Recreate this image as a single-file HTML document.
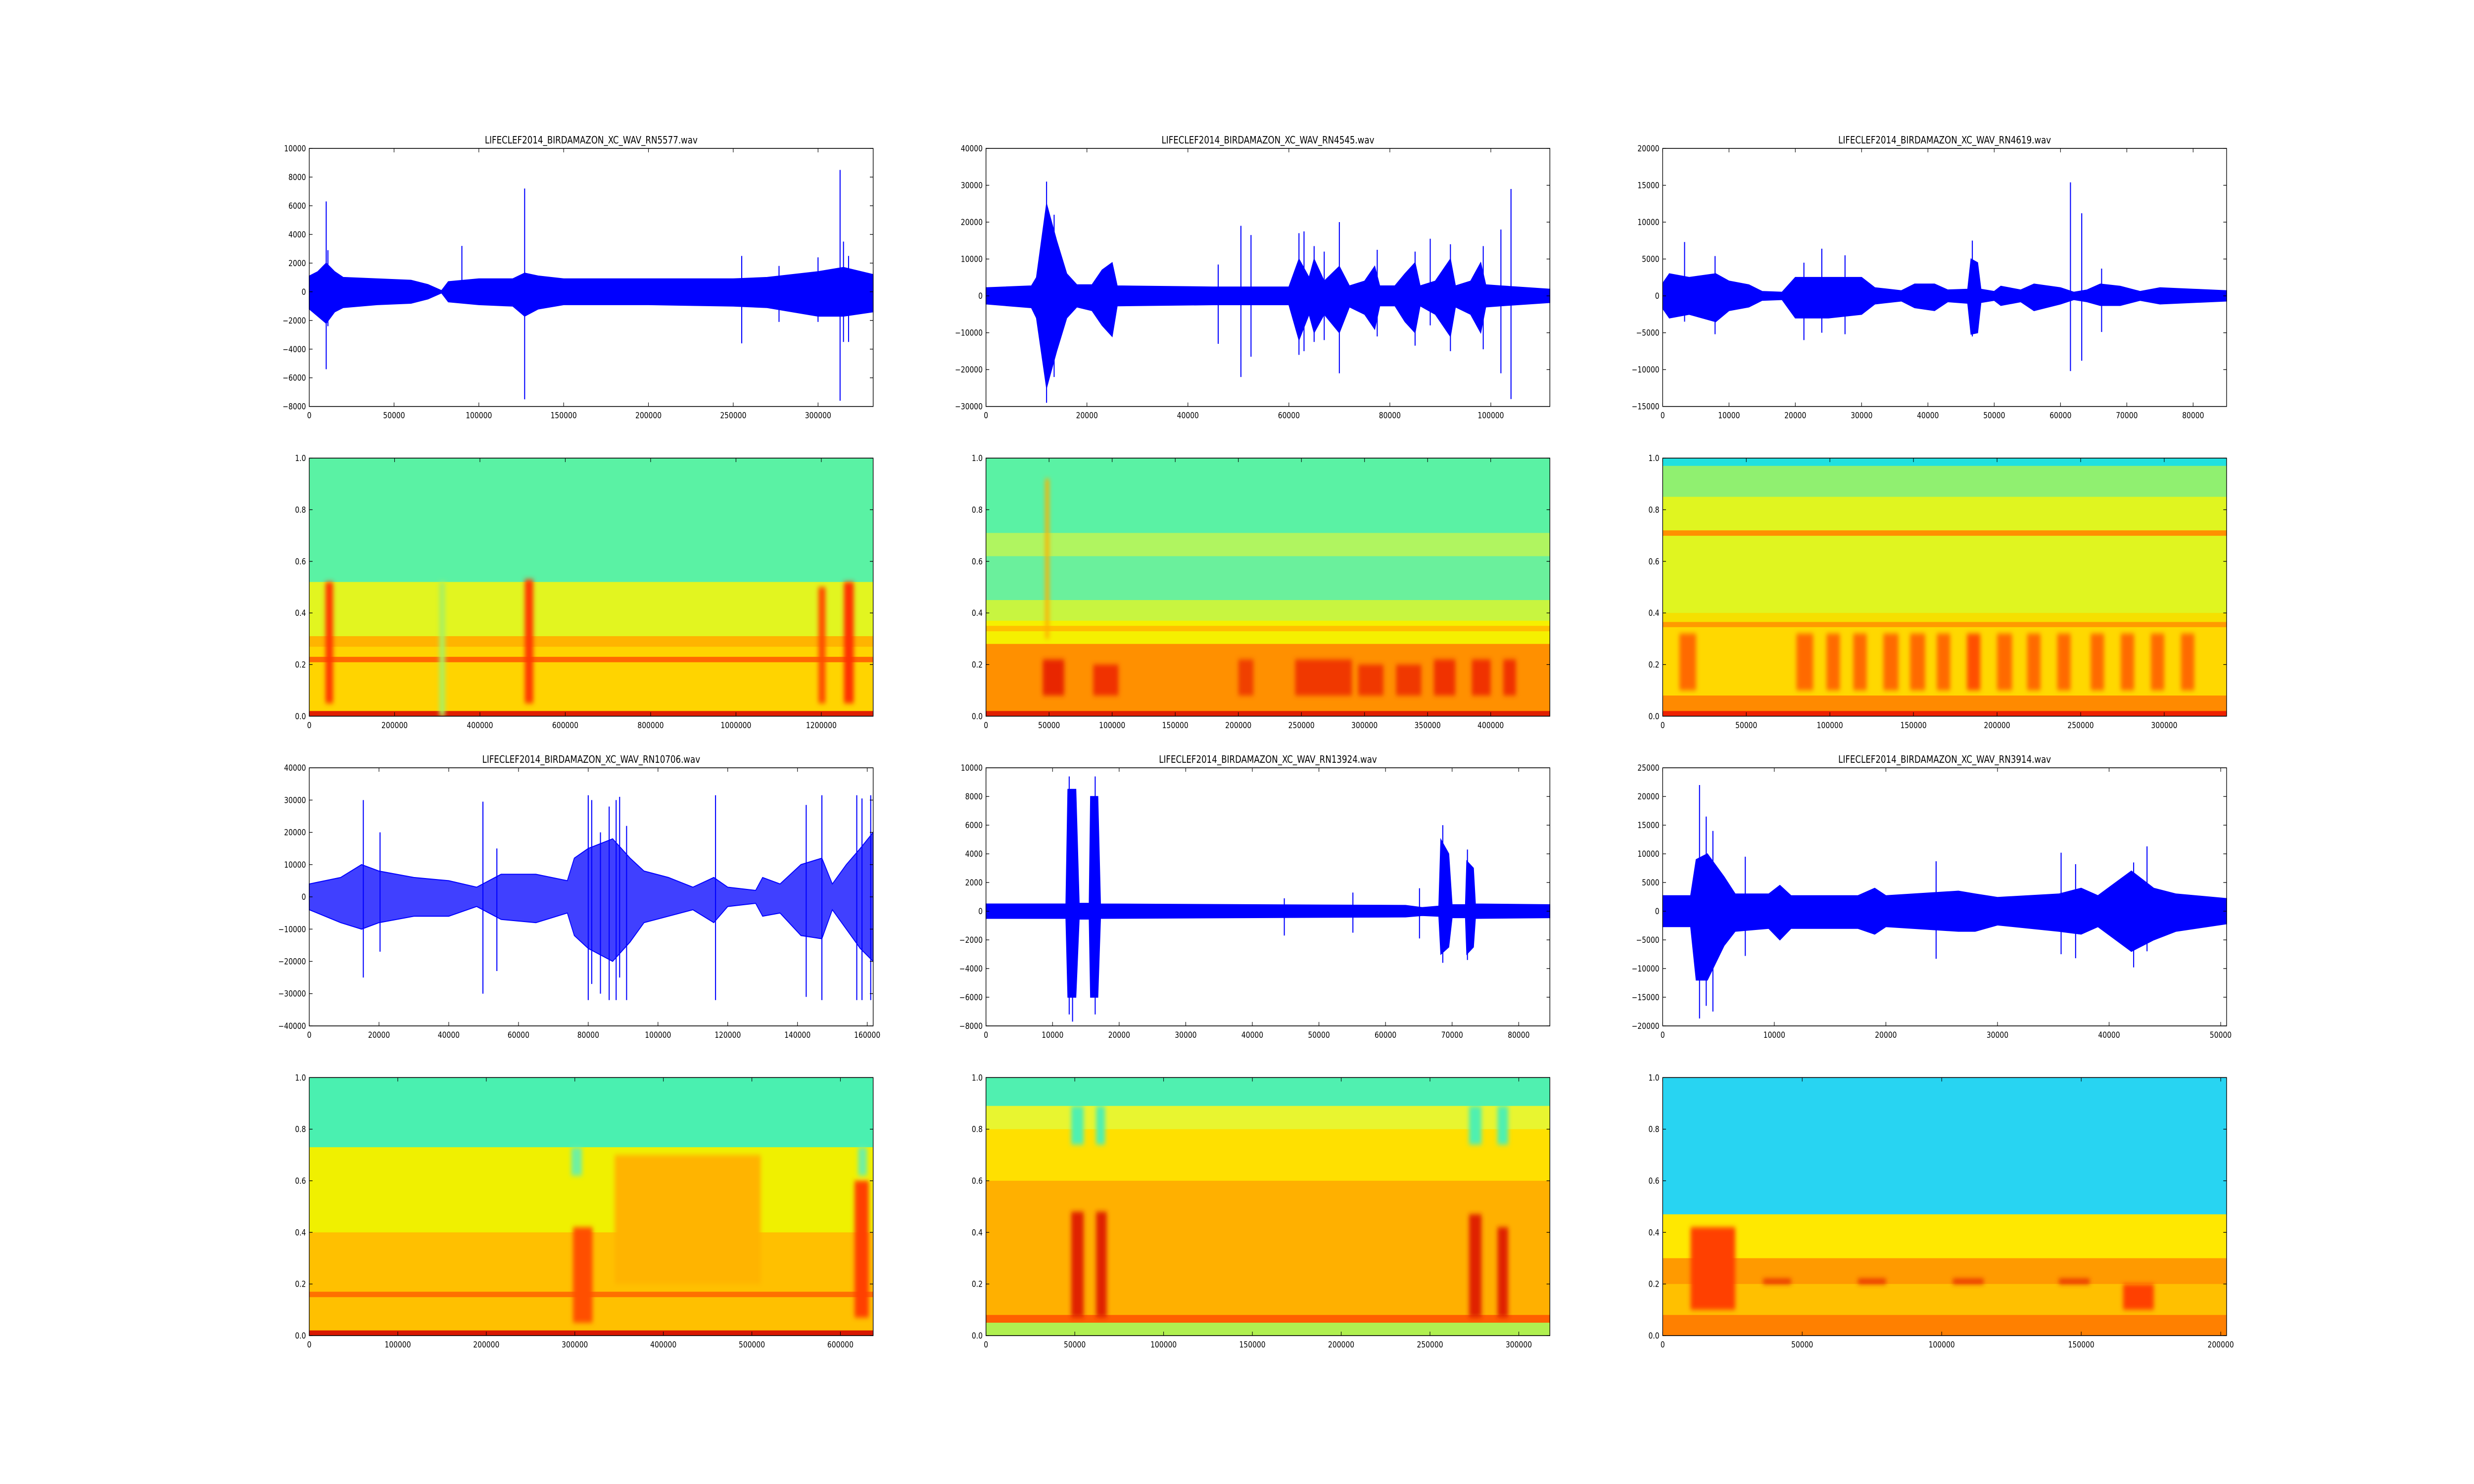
<!DOCTYPE html>
<html><head><meta charset="utf-8"><style>
html,body{margin:0;padding:0;background:#fff;overflow:hidden;}
#fig{display:block;width:100vw;height:100vh;}
svg text{font-family:"DejaVu Sans","Liberation Sans",sans-serif;}
</style></head>
<body>
<svg id="fig" xmlns="http://www.w3.org/2000/svg" viewBox="0 0 6000 3000" preserveAspectRatio="none">
<rect x="0" y="0" width="6000" height="3000" fill="#ffffff"/>
<defs><filter id="blur" x="-20%" y="-20%" width="140%" height="140%"><feGaussianBlur stdDeviation="5"/></filter></defs>
</svg>
<script>
// ---------- waveform data: [sample, hi, lo] ----------
const wave1Core = [[0,1100,-1200],[5000,1400,-1700],[10000,2000,-2200],[15000,1400,-1400],[20000,1000,-1100],[40000,900,-900],[60000,800,-800],[70000,500,-500],[78000,80,-80],[82000,700,-700],[100000,900,-900],[120000,900,-1000],[127000,1300,-1700],[135000,1100,-1200],[150000,900,-900],[200000,900,-900],[250000,900,-1000],[270000,1000,-1100],[300000,1400,-1700],[315000,1700,-1700],[332500,1200,-1400]];
const wave1Spikes = [[10000,6300,-5400],[11000,2900,-2400],[90000,3200,-800],[127000,7200,-7500],[255000,2500,-3600],[277000,1800,-2100],[300000,2400,-2100],[313000,8500,-7600],[315000,3500,-3500],[318000,2500,-3500]];
const wave1XTicks = [0,50000,100000,150000,200000,250000,300000];
const wave1YTicks = [-8000,-6000,-4000,-2000,0,2000,4000,6000,8000,10000];

const wave2Core = [[0,2200,-2200],[9000,2700,-3200],[10000,5000,-6000],[12000,25000,-25000],[14000,15000,-15000],[16000,6000,-6000],[18000,3000,-3000],[21000,3000,-4000],[23000,7000,-8000],[25000,9000,-11000],[26000,2700,-2700],[45000,2400,-2400],[60000,2400,-2400],[62000,10000,-12000],[64000,5000,-5000],[65000,10000,-10000],[67000,4000,-5000],[70000,8000,-10000],[72000,2700,-3000],[75000,4000,-5000],[77000,8000,-9000],[78000,2700,-2700],[81000,2700,-2700],[83000,6000,-7000],[85000,9000,-10000],[86000,2700,-2700],[89000,4000,-5000],[92000,10000,-11000],[93000,2700,-3000],[96000,4000,-5000],[98000,9000,-10000],[99000,3000,-3000],[102000,2700,-2700],[111700,1800,-1800]];
const wave2Spikes = [[12000,31000,-29000],[13500,22000,-22000],[46000,8500,-13000],[50500,19000,-22000],[52500,16500,-16500],[62000,17000,-16000],[63000,17500,-15000],[65000,13500,-12500],[67000,12000,-12000],[70000,20000,-21000],[77500,12500,-11000],[85000,12000,-13500],[88000,15500,-8000],[92000,14000,-15000],[98500,13500,-14500],[102000,18000,-21000],[104000,29000,-28000]];
const wave2XTicks = [0,20000,40000,60000,80000,100000];
const wave2YTicks = [-30000,-20000,-10000,0,10000,20000,30000,40000];

const wave3Core = [[0,1700,-1700],[1000,3000,-3000],[4000,2500,-2500],[8000,3000,-3500],[10000,2000,-2000],[13000,1500,-1500],[15000,600,-600],[18000,500,-500],[20000,2500,-3000],[25000,2500,-3000],[30000,2500,-2500],[32000,1100,-1100],[36000,700,-700],[38000,1600,-1600],[41000,1600,-2000],[43000,800,-800],[46000,900,-1000],[46500,5000,-5200],[47500,4500,-5000],[48000,900,-900],[50000,600,-600],[51000,1300,-1300],[54000,800,-800],[56000,1600,-2000],[60000,1100,-1100],[62000,500,-500],[64000,800,-800],[66000,1600,-1300],[69000,1300,-1300],[72000,600,-600],[75000,1100,-1100],[80000,900,-900],[85050,700,-700]];
const wave3Spikes = [[3300,7300,-3500],[7900,5400,-5200],[21300,4500,-6000],[24000,6400,-5000],[27500,5500,-5200],[46700,7500,-5500],[61500,15400,-10200],[63200,11200,-8800],[66200,3700,-4900]];
const wave3XTicks = [0,10000,20000,30000,40000,50000,60000,70000,80000];
const wave3YTicks = [-15000,-10000,-5000,0,5000,10000,15000,20000];

const wave4Core = [[0,4000,-4000],[9000,6000,-8000],[15000,10000,-10000],[20000,8000,-8000],[30000,6000,-6000],[40000,5000,-6000],[48000,3000,-3000],[55000,7000,-7000],[65000,7000,-8000],[74000,5000,-5000],[76000,12000,-12000],[80000,15000,-16000],[87000,18000,-20000],[92000,12000,-14000],[96000,8000,-8000],[103000,6000,-6000],[110000,3000,-4000],[116000,6000,-8000],[120000,3000,-3000],[128000,2000,-2000],[130000,6000,-6000],[135000,4000,-5000],[141000,10000,-12000],[147000,12000,-13000],[150000,4000,-4000],[154000,10000,-10000],[158000,15000,-16000],[161700,20000,-20000]];
const wave4Spikes = [[15500,30000,-25000],[20300,20000,-17000],[49800,29500,-30000],[53800,15000,-23000],[80000,31500,-32000],[81000,30000,-27000],[83500,20000,-30000],[86000,28000,-32000],[88000,30000,-32000],[89000,31000,-25000],[91000,22000,-32000],[116500,31500,-32000],[142500,28500,-31000],[147000,31500,-32000],[157000,31500,-32000],[158500,30500,-32000],[161000,31500,-32000]];
const wave4XTicks = [0,20000,40000,60000,80000,100000,120000,140000,160000];
const wave4YTicks = [-40000,-30000,-20000,-10000,0,10000,20000,30000,40000];

const wave5Core = [[0,500,-500],[12000,500,-500],[12300,8500,-6000],[13500,8500,-6000],[14000,550,-550],[15500,550,-550],[15700,8000,-6000],[16800,8000,-6000],[17200,500,-500],[63000,400,-400],[65500,250,-300],[68000,350,-350],[68300,5000,-3000],[69500,4000,-2500],[70000,450,-450],[72000,450,-450],[72200,3500,-3000],[73200,3000,-2500],[73500,500,-500],[84680,450,-450]];
const wave5Spikes = [[12500,9400,-7200],[13000,8500,-7700],[16400,9400,-7200],[44800,900,-1700],[55100,1300,-1500],[65100,1600,-1900],[68600,6000,-3600],[72300,4300,-3400]];
const wave5XTicks = [0,10000,20000,30000,40000,50000,60000,70000,80000];
const wave5YTicks = [-8000,-6000,-4000,-2000,0,2000,4000,6000,8000,10000];

const wave6Core = [[0,2700,-2700],[2500,2700,-2700],[3000,9000,-12000],[4000,10000,-12000],[5500,6000,-6000],[6500,3000,-3500],[9500,3000,-3000],[10500,4500,-5000],[11500,2700,-3000],[17500,2700,-3000],[19000,4000,-4000],[20000,2700,-2700],[26500,3500,-3500],[28000,3000,-3500],[30000,2400,-2400],[35500,3000,-3500],[37500,4000,-4000],[39000,2700,-2700],[42000,7000,-7000],[44000,4000,-5000],[46000,3000,-3500],[50530,2200,-2200]];
const wave6Spikes = [[3300,22000,-18700],[3900,16500,-16500],[4500,14000,-17500],[7400,9500,-7800],[24500,8700,-8300],[35700,10200,-7500],[37000,8200,-8200],[42200,8500,-9800],[43400,11300,-7000]];
const wave6XTicks = [0,10000,20000,30000,40000,50000];
const wave6YTicks = [-20000,-15000,-10000,-5000,0,5000,10000,15000,20000,25000];

const waveTitles = ["LIFECLEF2014_BIRDAMAZON_XC_WAV_RN5577.wav","LIFECLEF2014_BIRDAMAZON_XC_WAV_RN4545.wav","LIFECLEF2014_BIRDAMAZON_XC_WAV_RN4619.wav","LIFECLEF2014_BIRDAMAZON_XC_WAV_RN10706.wav","LIFECLEF2014_BIRDAMAZON_XC_WAV_RN13924.wav","LIFECLEF2014_BIRDAMAZON_XC_WAV_RN3914.wav"];
const waveXMax = [332500,111700,85050,161700,84680,50530];
const waveYMin = [-8000,-30000,-15000,-40000,-8000,-20000];
const waveYMax = [10000,40000,20000,40000,10000,25000];

// ---------- spectrogram data ----------
const spec1Bands = [[0.52,1.0,"#5af2a4"],[0.30,0.52,"#e2f520"],[0.02,0.30,"#ffd400"],[0.27,0.31,"#ffb400"],[0.21,0.23,"#ff6a00"],[0,0.02,"#e02000"]];
const spec1Bursts = [[305000,318000,0.0,0.52,"#a8f060"],[38000,56000,0.05,0.52,"#ff3a00"],[505000,525000,0.05,0.53,"#ff3a00"],[1193000,1210000,0.05,0.5,"#ff5000"],[1253000,1276000,0.05,0.52,"#ff3000"]];
const spec1XTicks = [0,200000,400000,600000,800000,1000000,1200000];
const spec2Bands = [[0.70,1.0,"#5af2a4"],[0.62,0.71,"#b0f560"],[0.45,0.62,"#6af09c"],[0.37,0.45,"#c8f540"],[0.28,0.37,"#f5f000"],[0.33,0.35,"#ffc000"],[0.02,0.28,"#ff9000"],[0,0.02,"#e02000"]];
const spec2Bursts = [[45000,62000,0.08,0.22,"#e82800"],[85000,105000,0.08,0.2,"#f03000"],[200000,212000,0.08,0.22,"#f04000"],[245000,290000,0.08,0.22,"#f03800"],[295000,315000,0.08,0.2,"#f03800"],[325000,345000,0.08,0.2,"#f03800"],[355000,372000,0.08,0.22,"#f03000"],[385000,400000,0.08,0.22,"#f03000"],[410000,420000,0.08,0.22,"#f03000"],[47000,50000,0.3,0.92,"#ffb000"]];
const spec2XTicks = [0,50000,100000,150000,200000,250000,300000,350000,400000];
const spec3Bands = [[0.97,1.0,"#20e0e0"],[0.85,0.97,"#90f070"],[0.40,0.85,"#e0f520"],[0.70,0.72,"#ff9000"],[0.36,0.40,"#f5e000"],[0.345,0.365,"#ff9a00"],[0.08,0.345,"#ffd800"],[0.02,0.08,"#ff8a00"],[0,0.02,"#ee2200"]];
const spec3Bursts = [[10000,20000,0.1,0.32,"#ff6a00"],[80000,90000,0.1,0.32,"#ff6a00"],[98000,106000,0.1,0.32,"#ff6a00"],[114000,122000,0.1,0.32,"#ff6a00"],[132000,141000,0.1,0.32,"#ff6a00"],[148000,157000,0.1,0.32,"#ff6a00"],[164000,172000,0.1,0.32,"#ff6a00"],[182000,190000,0.1,0.32,"#ff5000"],[200000,209000,0.1,0.32,"#ff6a00"],[218000,226000,0.1,0.32,"#ff6a00"],[236000,244000,0.1,0.32,"#ff6a00"],[256000,264000,0.1,0.32,"#ff6a00"],[274000,282000,0.1,0.32,"#ff6a00"],[292000,300000,0.1,0.32,"#ff6a00"],[310000,318000,0.1,0.32,"#ff6a00"]];
const spec3XTicks = [0,50000,100000,150000,200000,250000,300000];
const spec4Bands = [[0.73,1.0,"#4af0b0"],[0.40,0.73,"#f0f000"],[0.02,0.40,"#ffc000"],[0.15,0.17,"#ff7000"],[0,0.02,"#d81800"]];
const spec4Bursts = [[345000,510000,0.2,0.7,"#ffb400"],[298000,320000,0.05,0.42,"#ff5000"],[616000,632000,0.07,0.6,"#ff4000"],[296000,308000,0.62,0.73,"#70f0a0"],[620000,630000,0.62,0.73,"#70f0a0"]];
const spec4XTicks = [0,100000,200000,300000,400000,500000,600000];
const spec5Bands = [[0.89,1.0,"#50f0b0"],[0.80,0.89,"#e8f530"],[0.60,0.80,"#ffe000"],[0.07,0.60,"#ffb000"],[0.05,0.08,"#ff6000"],[0,0.05,"#b0f050"]];
const spec5Bursts = [[48000,55000,0.07,0.48,"#e02000"],[62000,68000,0.07,0.48,"#e02000"],[272000,279000,0.07,0.47,"#e02000"],[288000,294000,0.07,0.42,"#e02000"],[48000,55000,0.74,0.89,"#50f0b0"],[62000,67000,0.74,0.89,"#50f0b0"],[272000,279000,0.74,0.89,"#50f0b0"],[288000,294000,0.74,0.89,"#50f0b0"]];
const spec5XTicks = [0,50000,100000,150000,200000,250000,300000];
const spec6Bands = [[0.47,1.0,"#28d4f2"],[0.30,0.47,"#ffe800"],[0.20,0.30,"#ff9a00"],[0.08,0.20,"#ffc000"],[0,0.08,"#ff8000"]];
const spec6Bursts = [[10000,26000,0.1,0.42,"#ff4000"],[165000,176000,0.1,0.2,"#ff4000"],[36000,46000,0.2,0.22,"#e83000"],[70000,80000,0.2,0.22,"#e83000"],[104000,115000,0.2,0.22,"#e83000"],[142000,153000,0.2,0.22,"#e83000"]];
const spec6XTicks = [0,50000,100000,150000,200000];
const specYTicks = [0.0,0.2,0.4,0.6,0.8,1.0];
const specXMax = [1321500,446900,337300,637000,317500,202100];

const waves = [[wave1Core,wave1Spikes,wave1XTicks,wave1YTicks],[wave2Core,wave2Spikes,wave2XTicks,wave2YTicks],[wave3Core,wave3Spikes,wave3XTicks,wave3YTicks],[wave4Core,wave4Spikes,wave4XTicks,wave4YTicks],[wave5Core,wave5Spikes,wave5XTicks,wave5YTicks],[wave6Core,wave6Spikes,wave6XTicks,wave6YTicks]];
const specs = [[spec1Bands,spec1Bursts,spec1XTicks],[spec2Bands,spec2Bursts,spec2XTicks],[spec3Bands,spec3Bursts,spec3XTicks],[spec4Bands,spec4Bursts,spec4XTicks],[spec5Bands,spec5Bursts,spec5XTicks],[spec6Bands,spec6Bursts,spec6XTicks]];

const NS = "http://www.w3.org/2000/svg";
const svg = document.getElementById('fig');
const colL = [750, 2391.2, 4032.4], AW = 1367.6;
const rowT = [300, 926.1, 1552.2, 2178.3], AH = 521.7;

function mk(tag, attrs, parent){
  const e = document.createElementNS(NS, tag);
  for (const k in attrs) e.setAttribute(k, attrs[k]);
  (parent||svg).appendChild(e);
  return e;
}
function fmt(v, dec){
  let s = dec ? v.toFixed(1) : String(v);
  return s.replace('-', '\u2212');
}
function axesFrame(g, x0, y0, xs, ys, xt, yt, dec){
  const fr = mk('rect',{x:x0,y:y0,width:AW,height:AH,fill:'none',stroke:'#000','stroke-width':1.6},g);
  
  
  xt.forEach(v=>{
    const px = xs(v);
    const t1 = mk('line',{x1:px,x2:px,y1:y0+AH,y2:y0+AH-8,stroke:'#000','stroke-width':1.3},g);
    
    
    const t2 = mk('line',{x1:px,x2:px,y1:y0,y2:y0+8,stroke:'#000','stroke-width':1.3},g);
    
    
    const tl = mk('text',{x:px,y:y0+AH+24,'font-size':16.7,'text-anchor':'middle',fill:'#000'},g);
    tl.textContent = fmt(v,false);
    
    
  });
  yt.forEach(v=>{
    const py = ys(v);
    const t1 = mk('line',{x1:x0,x2:x0+8,y1:py,y2:py,stroke:'#000','stroke-width':1.3},g);
    
    
    const t2 = mk('line',{x1:x0+AW,x2:x0+AW-8,y1:py,y2:py,stroke:'#000','stroke-width':1.3},g);
    
    
    const tl = mk('text',{x:x0-8,y:py+6,'font-size':16.7,'text-anchor':'end',fill:'#000'},g);
    tl.textContent = fmt(v,dec);
    
    
  });
}

for (let i=0;i<6;i++){
  const col = i%3, row = i<3 ? 0 : 2;
  const x0 = colL[col], y0 = rowT[row];
  const [core, spikes, xt, yt] = waves[i];
  const xmax = waveXMax[i], ymin = waveYMin[i], ymax = waveYMax[i];
  const xs = v => x0 + v/xmax*AW;
  const ys = v => y0 + (ymax - v)/(ymax-ymin)*AH;
  const g = mk('g',{});
  
  
  let pts = core.map(d=>xs(d[0]).toFixed(1)+','+ys(d[1]).toFixed(1));
  pts = pts.concat(core.slice().reverse().map(d=>xs(d[0]).toFixed(1)+','+ys(d[2]).toFixed(1)));
  const poly = mk('polygon',{points:pts.join(' '),fill:'#0000ff','fill-opacity': i===3?0.75:1,stroke:'#0000ff','stroke-width':2},g);
  
  
  spikes.forEach(d=>{
    const ln = mk('line',{x1:xs(d[0]),x2:xs(d[0]),y1:ys(d[1]),y2:ys(d[2]),stroke:'#0000ff','stroke-width':2.5},g);
    
    
  });
  axesFrame(g, x0, y0, xs, ys, xt, yt, false);
  const tt = mk('text',{x:x0+AW/2,y:y0-10,'font-size':20,'text-anchor':'middle',fill:'#000'},g);
  tt.textContent = waveTitles[i];
  
  

  const sy0 = rowT[row+1];
  const [bands, bursts, sxt] = specs[i];
  const sxmax = specXMax[i];
  const sxs = v => x0 + v/sxmax*AW;
  const sys = v => sy0 + (1 - v)*AH;
  const sg = mk('g',{});
  
  
  const cid = 'clip'+i;
  const cp = mk('clipPath',{id:cid},sg);
  mk('rect',{x:x0,y:sy0,width:AW,height:AH},cp);
  const inner = mk('g',{'clip-path':'url(#'+cid+')'},sg);
  bands.forEach(b=>{
    const r = mk('rect',{x:x0,y:sys(b[1]),width:AW,height:sys(b[0])-sys(b[1])+0.5,fill:b[2]},inner);
    
    
  });
  const bg = mk('g',{filter:'url(#blur)'},inner);
  bursts.forEach(b=>{
    const r = mk('rect',{x:sxs(b[0]),y:sys(b[3]),width:sxs(b[1])-sxs(b[0]),height:sys(b[2])-sys(b[3]),fill:b[4]},bg);
    
    
  });
  axesFrame(sg, x0, sy0, sxs, sys, sxt, specYTicks, true);
}
</script>
</body></html>
